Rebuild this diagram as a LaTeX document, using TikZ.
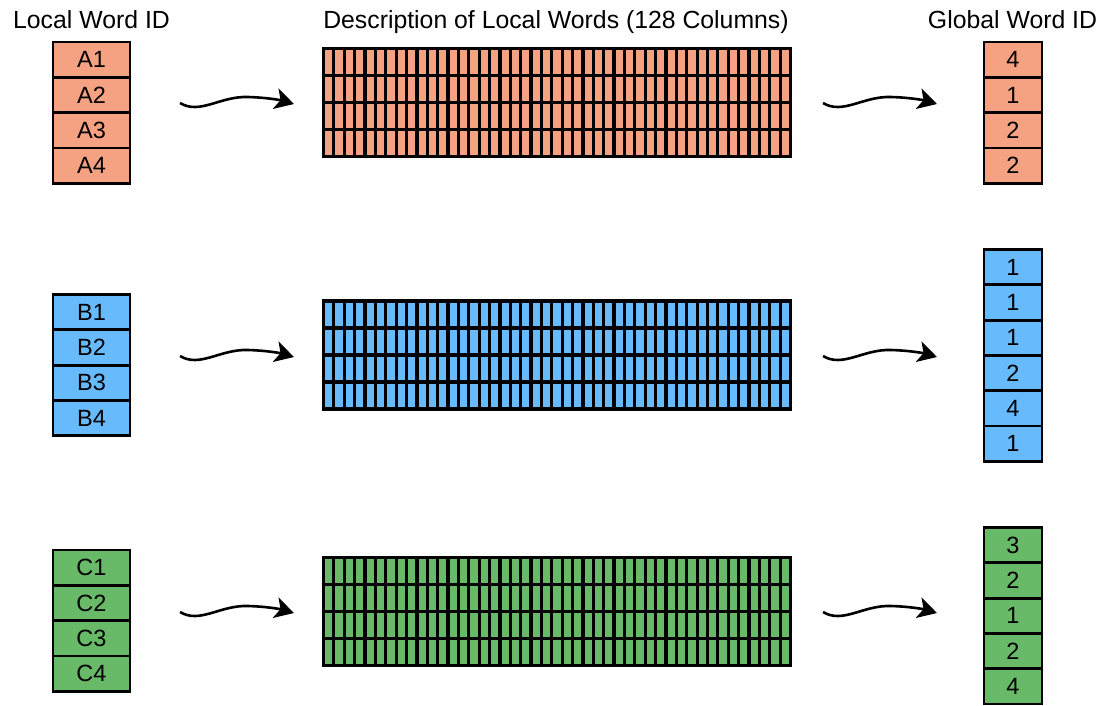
\documentclass[tikz,border=0pt]{standalone}
\usepackage{fontspec}
\setmainfont{Liberation Sans}
\usetikzlibrary{arrows.meta}
\definecolor{corange}{RGB}{245,162,131}
\definecolor{cblue}{RGB}{103,187,253}
\definecolor{cgreen}{RGB}{104,186,104}
\begin{document}
\begin{tikzpicture}[x=1pt,y=-1pt,
  stackcell/.style={draw=black, line width=2.8pt, inner sep=0pt,
    minimum height=35.3pt, font=\fontsize{23.5}{23.5}\selectfont},
  leftcell/.style={stackcell, minimum width=77pt},
  rightcell/.style={stackcell, minimum width=58pt},
  header/.style={font=\fontsize{24.8}{24.8}\selectfont, anchor=base},
  gridframe/.style={draw=black, line width=3.4pt, inner sep=0pt,
    minimum width=467pt, minimum height=108pt},
  gridcell/.style={draw=black, line width=3.2pt},
  wave/.style={line width=2.6pt, -{Stealth[length=19pt, width=21pt, inset=5pt]}}
]
\useasboundingbox (0,0) rectangle (1107,705);

% headers
\node[header] (hLocal) at (91.5,28) {Local Word ID};
\node[header] (hDesc) at (556,28) {Description of Local Words (128 Columns)};
\node[header] (hGlobal) at (1012.5,28) {Global Word ID};

% left stacks
\foreach \lab [count=\i from 0] in {A1,A2,A3,A4}
  \node[leftcell, fill=corange] (L\lab) at (91.5,{42+35.3*(\i+0.5)}) {\lab};
\foreach \lab [count=\i from 0] in {B1,B2,B3,B4}
  \node[leftcell, fill=cblue] (L\lab) at (91.5,{294.5+35.3*(\i+0.5)}) {\lab};
\foreach \lab [count=\i from 0] in {C1,C2,C3,C4}
  \node[leftcell, fill=cgreen] (L\lab) at (91.5,{550+35.3*(\i+0.5)}) {\lab};

% right stacks
\foreach \lab [count=\i from 0] in {4,1,2,2}
  \node[rightcell, fill=corange] (RA\i) at (1013,{42+35.3*(\i+0.5)}) {\lab};
\foreach \lab [count=\i from 0] in {1,1,1,2,4,1}
  \node[rightcell, fill=cblue] (RB\i) at (1013,{249.5+35.3*(\i+0.5)}) {\lab};
\foreach \lab [count=\i from 0] in {3,2,1,2,4}
  \node[rightcell, fill=cgreen] (RC\i) at (1013,{527.5+35.3*(\i+0.5)}) {\lab};

% grids
\foreach \g/\col/\top in {A/corange/47, B/cblue/299.5, C/cgreen/556}{
  \node[gridframe] (grid\g) at (557,{\top+55.5}) {};
  \foreach \i in {0,...,44}
    \foreach \j in {0,...,3}
      \filldraw[gridcell, fill=\col]
        ({323.5+\i*10.378},{\top+1.5+\j*27}) rectangle ++(10.378,27);
}

% wavy arrows
\foreach \n/\sx/\sy in {lA/180/103, lB/180/356, lC/180/612,
                        rA/823/103, rB/823/356, rC/823/612}{
  \begin{scope}[shift={(\sx,\sy)}]
    \coordinate (\n s) at (0,0);
    \coordinate (\n e) at (114,1);
    \draw[wave] (\n s) .. controls (20,12) and (40,-7) .. (68,-6)
                .. controls (86,-5.5) and (100,-3) .. (\n e);
  \end{scope}
}
\end{tikzpicture}
\end{document}
